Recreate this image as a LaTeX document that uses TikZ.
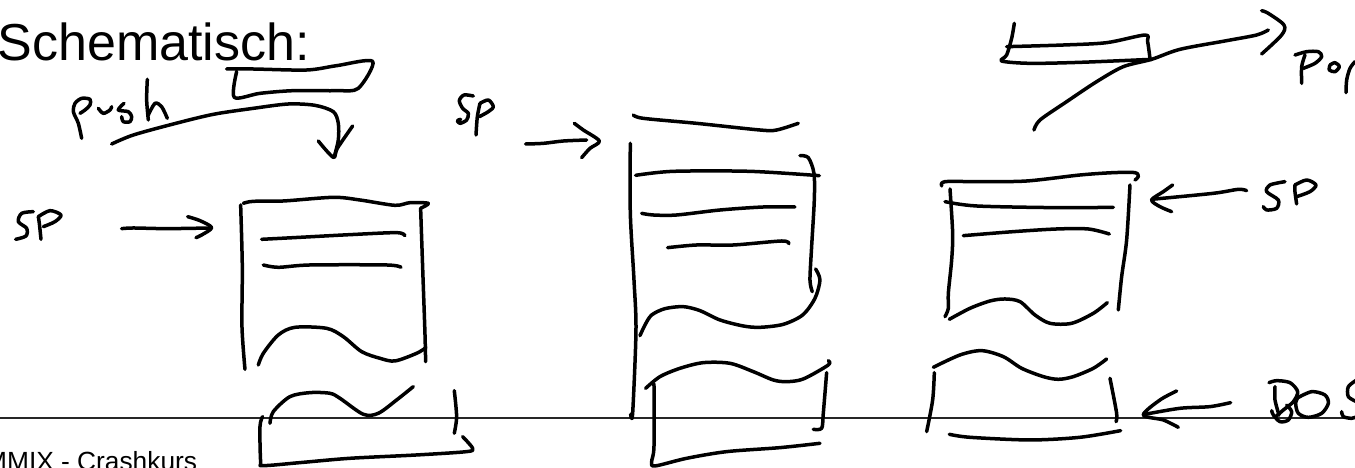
\documentclass[tikz,border=0pt]{standalone}
\usepackage{fontspec}
\setmainfont{Liberation Sans}
\newcommand\handstroke[1]{\draw[ink] plot[smooth,tension=.5] coordinates {#1};}
\begin{document}
\begin{tikzpicture}[x=1pt,y=-1pt,
  ink/.style={line width=3.5pt,line cap=round,line join=round,black},
  rulerline/.style={line width=1.2pt,black!85},
  zoomone/.style={x=0.3333pt,y=-0.3333pt},
  zoomtwo/.style={x=0.3333pt,y=-0.3333pt,shift={(480pt,-80pt)}},
  zoomthree/.style={x=0.3333pt,y=-0.3333pt,shift={(880pt,0pt)}},
  title/.style={inner sep=0pt,anchor=base west,font=\fontsize{52}{60}\selectfont},
  footer/.style={inner sep=0pt,anchor=base west,font=\fontsize{26.3}{30}\selectfont}]
\useasboundingbox (0,0) rectangle (1355,467);
\clip (0,0) rectangle (1355,467);
\fill[white] (0,0) rectangle (1355,467);
\node[title] (head) at (-2.5,60) {Schematisch:};
\node[footer] (foot) at (-15,470) {MMIX - Crashkurs};
\coordinate (ruleL) at (0,418);
\coordinate (ruleR) at (1355,418);
\draw[rulerline] (ruleL) -- (ruleR);
% push
\begin{scope}[x=0.3333pt,y=-0.3333pt,shift={(60pt,-70pt)}]
\handstroke{(65,205)(55,160)(40,125)(45,100)(65,85)(90,88)(90,105)(75,120)(60,130)}
\handstroke{(115,115)(130,130)(150,120)(155,110)}
\handstroke{(192,100)(175,120)(205,125)(215,140)(210,155)(190,155)(185,140)}
\handstroke{(262,28)(260,90)(265,150)}
\handstroke{(265,135)(285,100)(305,110)(322,145)}
\end{scope}
% middle SP
\begin{scope}[x=0.3333pt,y=-0.3333pt,shift={(440pt,-80pt)}]
\handstroke{(100,48)(72,45)(58,62)(68,85)(85,100)(80,120)(60,130)(52,122)(62,118)}
\handstroke{(108,165)(112,110)(120,70)}
\handstroke{(120,70)(145,60)(160,80)(145,95)(118,110)}
\end{scope}
% Pop
\begin{scope}[x=0.3333pt,y=-0.3333pt,shift={(1280pt,-40pt)}]
\handstroke{(65,130)(65,80)(75,45)}
\handstroke{(45,45)(80,35)(115,35)(125,50)(105,70)(70,85)}
\handstroke{(150,75)(165,68)(178,80)(165,95)(148,90)(150,75)}
\handstroke{(198,158)(200,120)(210,85)(225,65)}
\end{scope}
% BOS
\begin{scope}[x=0.3333pt,y=-0.3333pt,shift={(1255pt,-370pt)}]
\handstroke{(42,38)(65,32)(105,38)(128,65)(115,95)(85,120)(62,140)}
\handstroke{(60,50)(60,90)(72,135)}
\handstroke{(95,105)(110,125)(100,150)(75,155)(55,135)(50,122)}
\handstroke{(125,85)(170,65)(210,75)(220,100)(200,130)(160,142)(130,130)(122,100)(130,80)}
\handstroke{(305,30)(280,50)(280,80)(305,95)}
\handstroke{(260,125)(265,140)(290,145)(305,140)}
\end{scope}
% left stack
\begin{scope}[zoomone]
\handstroke{(680,207)(760,207)(920,210)(1010,197)(1118,184)(1075,265)(1010,272)(880,272)(780,280)(703,292)(710,215)}
\handstroke{(335,432)(400,405)(520,372)(640,343)(760,325)(865,312)(945,316)(1000,335)(1015,370)(1015,420)(1003,470)}
\handstroke{(955,423)(1000,472)(1012,445)(1058,378)}
% SP
\handstroke{(100,635)(65,640)(55,665)(80,685)(78,708)(47,718)}
\handstroke{(123,718)(118,670)(115,650)}
\handstroke{(115,650)(150,632)(183,645)(165,665)(130,680)}
\handstroke{(365,686)(400,684)(500,686)(630,684)}
\handstroke{(563,650)(600,662)(635,683)(605,705)(588,713)}
% box
\handstroke{(730,610)(760,604)(850,603)(1000,592)(1080,600)(1185,616)(1230,608)(1285,610)(1262,625)}
\handstroke{(722,615)(727,800)(726,980)(735,1108)}
\handstroke{(1262,625)(1268,800)(1275,1000)(1277,1085)}
\handstroke{(785,718)(900,712)(1050,704)(1190,698)(1215,707)}
\handstroke{(790,795)(835,802)(930,795)(1160,795)(1203,802)}
\handstroke{(775,1095)(790,1060)(835,1005)(885,982)(980,985)(1030,1010)(1085,1055)(1140,1075)(1185,1083)(1250,1060)(1278,1043)}
\handstroke{(810,1270)(820,1235)(870,1190)(930,1178)(990,1180)(1020,1195)(1090,1243)(1135,1240)(1190,1200)(1240,1160)}
\handstroke{(788,1250)(780,1280)(782,1385)(790,1397)(900,1388)(1050,1375)(1250,1365)(1400,1355)(1418,1345)(1388,1310)}
\handstroke{(1363,1172)(1370,1250)(1363,1300)}
\end{scope}
% middle stack
\begin{scope}[zoomtwo]
\handstroke{(137,192)(190,190)(250,183)(320,180)}
\handstroke{(283,130)(310,150)(358,183)(330,205)(305,233)}
\handstroke{(460,105)(490,115)(650,130)(840,150)(890,150)(955,130)}
\handstroke{(451,190)(451,400)(462,600)(468,750)(458,1000)(452,1003)}
\handstroke{(480,767)(495,735)(515,705)(555,686)(610,680)(660,692)(720,720)(790,738)(840,742)(910,733)(968,705)(1005,655)(1020,600)(1007,567)}
\handstroke{(960,227)(985,233)(1002,280)(1003,360)(995,500)(990,600)(997,635)}
\handstroke{(467,286)(580,274)(810,274)(1018,287)}
\handstroke{(485,400)(520,405)(590,405)(720,390)(850,381)(945,381)}
\handstroke{(563,503)(650,495)(760,495)(905,483)(927,491)}
\handstroke{(497,925)(540,890)(600,865)(670,848)(750,850)(820,875)(880,900)(920,905)(970,897)(1045,855)(1045,842)}
\handstroke{(522,912)(522,1100)(515,1145)(525,1158)(620,1135)(740,1115)(900,1103)(1020,1090)}
\handstroke{(1040,878)(1030,1000)(1025,1045)(1000,1048)}
\end{scope}
% right stack
\begin{scope}[zoomthree]
\handstroke{(403,70)(395,115)(380,165)(365,183)(450,190)(600,187)(815,178)}
\handstroke{(380,140)(550,135)(680,128)(795,105)(803,125)(810,175)}
\handstroke{(462,390)(480,360)(560,305)(650,245)(730,200)(815,178)(900,148)(1040,122)(1130,105)(1165,90)}
\handstroke{(1145,32)(1165,40)(1212,75)(1205,105)(1145,162)}
% SP
\handstroke{(1215,545)(1170,555)(1160,575)(1195,600)(1190,625)(1160,630)(1150,620)}
\handstroke{(1250,612)(1245,575)(1245,555)}
\handstroke{(1245,555)(1280,540)(1308,555)(1290,575)(1250,590)}
\handstroke{(1100,572)(1075,568)(1000,580)(815,598)}
\handstroke{(878,555)(850,575)(815,600)(840,620)(875,635)}
% box
\handstroke{(185,558)(195,545)(300,545)(440,543)(600,525)(700,518)(765,518)(775,530)(765,540)}
\handstroke{(210,567)(218,700)(215,780)(205,880)(205,925)(195,950)}
\handstroke{(750,555)(740,720)(725,830)(715,930)}
\handstroke{(195,605)(290,618)(530,623)(700,622)}
\handstroke{(250,707)(400,695)(530,687)(625,687)(688,702)}
\handstroke{(208,958)(270,925)(330,903)(375,897)(420,905)(465,945)(510,970)(575,970)(640,940)(682,908)}
\handstroke{(160,1102)(240,1065)(305,1052)(370,1070)(425,1105)(490,1130)(535,1138)(580,1130)(640,1105)(680,1077)}
\handstroke{(163,1118)(158,1200)(140,1295)}
\handstroke{(690,1135)(710,1240)(708,1265)}
\handstroke{(208,1303)(270,1312)(450,1320)(600,1312)(722,1292)}
\handstroke{(1052,1208)(990,1220)(900,1225)(795,1243)}
\handstroke{(890,1173)(840,1200)(790,1245)(850,1260)(895,1282)}
\end{scope}
\end{tikzpicture}
\end{document}
